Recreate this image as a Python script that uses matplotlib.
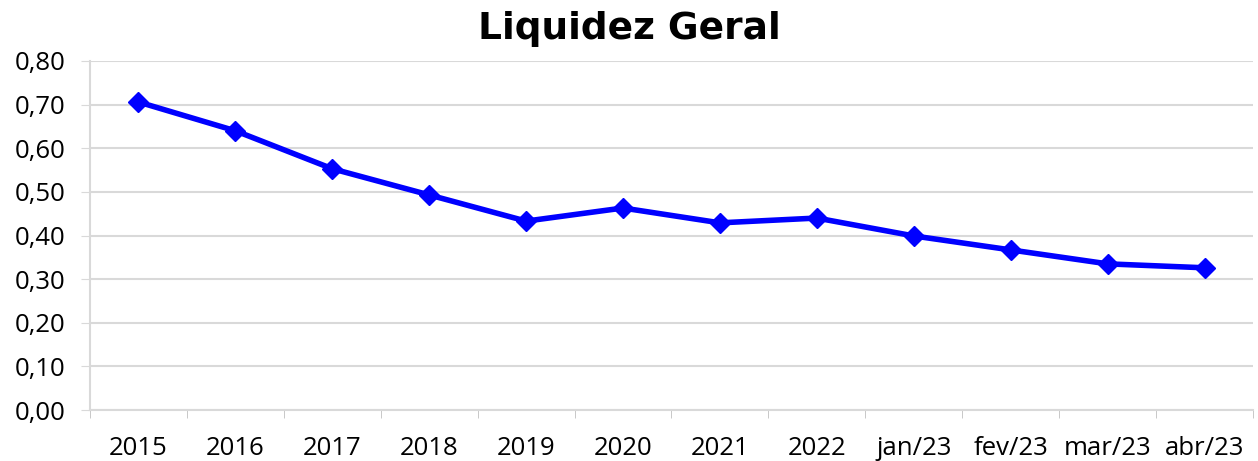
import matplotlib.pyplot as plt

# dados do gráfico
categorias = ['2015', '2016', '2017', '2018', '2019', '2020', '2021', '2022',
              'jan/23', 'fev/23', 'mar/23', 'abr/23']
liquidez = [0.706, 0.640, 0.553, 0.493, 0.433, 0.463, 0.429, 0.440,
            0.399, 0.367, 0.335, 0.326]
yticks = [0, 0.1, 0.2, 0.3, 0.4, 0.5, 0.6, 0.7, 0.8]

plt.rcParams['font.family'] = ['Open Sans', 'DejaVu Sans']

fig = plt.figure(figsize=(12.58, 4.61), dpi=100)
ax = fig.add_axes([0.0715, 0.1106, 0.9245, 0.7571])

x = list(range(len(categorias)))
ax.plot(x, liquidez, color='#0000FF', linewidth=4, marker='D', markersize=10,
        zorder=3)

ax.set_xlim(-0.5, len(categorias) - 0.5)
ax.set_ylim(0, 0.8)
ax.set_yticks(yticks)
ax.set_yticklabels([f'{v:.2f}'.replace('.', ',') for v in yticks], fontsize=18.5)
ax.set_xticks(x)
ax.set_xticklabels(categorias, fontsize=18.5)
ax.tick_params(axis='x', length=0, pad=19)
ax.set_xticks([i - 0.5 for i in range(len(categorias) + 1)], minor=True)
ax.tick_params(axis='x', which='minor', length=6, color='#BFBFBF')
ax.tick_params(axis='y', length=6.5, color='#D9D9D9', pad=11)

ax.grid(axis='y', color='#D9D9D9', linewidth=1.5)
ax.set_axisbelow(True)
for s in ['top', 'right']:
    ax.spines[s].set_visible(False)
ax.spines['left'].set_color('#D9D9D9')
ax.spines['left'].set_linewidth(1.5)
ax.spines['bottom'].set_color('#D9D9D9')
ax.spines['bottom'].set_linewidth(1.5)

fig.text(0.5, 0.938, 'Liquidez Geral', ha='center', va='center',
         fontsize=27, fontweight='bold', family=['DejaVu Sans'])

plt.savefig('out.png', dpi=100)
